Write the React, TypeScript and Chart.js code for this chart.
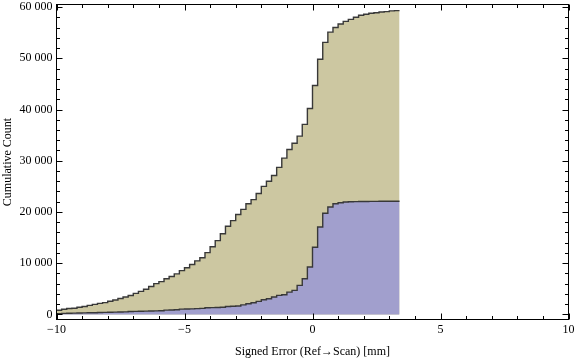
import React, { useEffect, useRef } from 'react';
import { Chart, registerables } from 'chart.js';
Chart.register(...registerables);

// ---- data ----
const binLeft = [
  -10, -9.8, -9.6, -9.4, -9.2, -9, -8.8, -8.6, -8.4, -8.2,
  -8, -7.8, -7.6, -7.4, -7.2, -7, -6.8, -6.6, -6.4, -6.2,
  -6, -5.8, -5.6, -5.4, -5.2, -5, -4.8, -4.6, -4.4, -4.2,
  -4, -3.8, -3.6, -3.4, -3.2, -3, -2.8, -2.6, -2.4, -2.2,
  -2, -1.8, -1.6, -1.4, -1.2, -1, -0.8, -0.6, -0.4, -0.2,
  0, 0.2, 0.4, 0.6, 0.8, 1, 1.2, 1.4, 1.6, 1.8,
  2, 2.2, 2.4, 2.6, 2.8, 3, 3.2,
];
const binRightEdge = 3.4;

const cumulativeAll = [
  800, 1000, 1150, 1200, 1400, 1550, 1750, 1950, 2150, 2300,
  2550, 2800, 3100, 3400, 3700, 4100, 4500, 4900, 5450, 6000,
  6400, 6950, 7400, 7900, 8550, 9100, 9750, 10450, 11050, 12050,
  13200, 14400, 15750, 17200, 18300, 19500, 20500, 21600, 22400, 23600,
  25000, 26000, 27100, 28700, 30500, 32200, 33400, 34800, 37100, 40200,
  44700, 49800, 53100, 55100, 56000, 56700, 57200, 57600, 58000, 58400,
  58600, 58800, 58900, 59050, 59100, 59250, 59300,
];

const cumulativeSubset = [
  150, 200, 230, 250, 270, 290, 310, 330, 380, 400,
  420, 440, 460, 480, 550, 590, 610, 630, 650, 680,
  720, 830, 860, 900, 1020, 1050, 1080, 1120, 1170, 1290,
  1320, 1350, 1400, 1550, 1580, 1650, 1850, 2080, 2280, 2540,
  2870, 3060, 3380, 3710, 3840, 4350, 4690, 5660, 6970, 9240,
  13100, 17050, 19750, 20950, 21600, 21800, 21950, 22000, 22020, 22040,
  22050, 22060, 22070, 22080, 22090, 22100, 22100,
];

const xLabelTicks = [-10, -5, 0, 5, 10];
const xAllTicks = [-10, -9, -8, -7, -6, -5, -4, -3, -2, -1, 0, 1, 2, 3, 4, 5, 6, 7, 8, 9, 10];
const yLabelTicks = [0, 10000, 20000, 30000, 40000, 50000, 60000];
const yAllTicks = [
  0, 2000, 4000, 6000, 8000, 10000, 12000, 14000, 16000, 18000,
  20000, 22000, 24000, 26000, 28000, 30000, 32000, 34000, 36000, 38000,
  40000, 42000, 44000, 46000, 48000, 50000, 52000, 54000, 56000, 58000, 60000,
];

const xTitle = 'Signed Error (Ref\u2192Scan) [mm]';
const yTitle = 'Cumulative Count';

const FONT = "'Liberation Serif', 'Times New Roman', Times, serif";
const TAN = 'rgb(204,199,161)';
const BLUE = 'rgb(161,159,205)';
const LINE = '#383838';

const fmtX = (v: number) => (v < 0 ? '\u2212' + Math.abs(v) : String(v));
const fmtY = (v: number) => (v === 0 ? '0' : `${Math.floor(v / 1000)} 000`);

const frameTicks = {
  id: 'frameTicks',
  afterDatasetsDraw(chart: any) {
    const { ctx, chartArea: a, scales } = chart;
    const xs = scales.x;
    const ys = scales.y;
    const L = Math.floor(a.left) + 0.5;
    const R = Math.floor(a.right) + 0.5;
    const T = Math.floor(a.top) + 0.5;
    const B = Math.floor(a.bottom) + 0.5;
    ctx.save();
    ctx.strokeStyle = '#000';
    ctx.lineWidth = 1;
    ctx.strokeRect(L, T, R - L, B - T);
    ctx.beginPath();
    for (const v of xAllTicks) {
      const px = Math.round(xs.getPixelForValue(v)) + 0.5;
      const len = xLabelTicks.includes(v) ? 6 : 3.5;
      ctx.moveTo(px, B);
      ctx.lineTo(px, B - len);
      ctx.moveTo(px, T);
      ctx.lineTo(px, T + len);
    }
    for (const v of yAllTicks) {
      const py = Math.round(ys.getPixelForValue(v)) + 0.5;
      const len = yLabelTicks.includes(v) ? 6 : 3.5;
      ctx.moveTo(L, py);
      ctx.lineTo(L + len, py);
      ctx.moveTo(R, py);
      ctx.lineTo(R - len, py);
    }
    ctx.stroke();
    ctx.restore();
  },
};

export default function App() {
  const ref = useRef<HTMLCanvasElement>(null);
  useEffect(() => {
    const toPts = (vals: number[]) => {
      const pts = binLeft.map((x, i) => ({ x, y: vals[i] }));
      pts.push({ x: binRightEdge, y: vals[vals.length - 1] });
      return pts;
    };
    const chart = new Chart(ref.current as HTMLCanvasElement, {
      type: 'line',
      data: {
        datasets: [
          {
            label: 'Subset',
            data: toPts(cumulativeSubset),
            stepped: true,
            fill: 'origin',
            backgroundColor: BLUE,
            borderColor: LINE,
            borderWidth: 1.4,
            pointRadius: 0,
            order: 0,
          },
          {
            label: 'All',
            data: toPts(cumulativeAll),
            stepped: true,
            fill: 'origin',
            backgroundColor: TAN,
            borderColor: LINE,
            borderWidth: 1.4,
            pointRadius: 0,
            order: 1,
          },
        ],
      } as any,
      options: {
        animation: false,
        responsive: false,
        maintainAspectRatio: false,
        layout: { padding: { left: 0, top: 4.5, right: 7.5, bottom: 0 } },
        plugins: { legend: { display: false }, tooltip: { enabled: false } },
        scales: {
          x: {
            type: 'linear',
            min: -10,
            max: 10,
            grid: { display: false, drawTicks: false },
            border: { display: false },
            afterBuildTicks: (s: any) => {
              s.ticks = xLabelTicks.map((v) => ({ value: v }));
            },
            afterFit: (s: any) => {
              s.height = 41.5;
              s.paddingLeft = 0;
              s.paddingRight = 0;
            },
            ticks: {
              autoSkip: false,
              maxRotation: 0,
              padding: 3,
              color: '#000',
              font: { family: FONT, size: 12 },
              callback: (v: any) => fmtX(Number(v)),
            },
            title: {
              display: true,
              text: xTitle,
              color: '#000',
              font: { family: FONT, size: 12 },
              padding: { top: 0, bottom: 2 },
            },
          },
          y: {
            type: 'linear',
            min: -1000,
            max: 60500,
            grid: { display: false, drawTicks: false },
            border: { display: false },
            afterBuildTicks: (s: any) => {
              s.ticks = yLabelTicks.map((v) => ({ value: v }));
            },
            afterFit: (s: any) => {
              s.width = 56.5;
              s.paddingTop = 0;
              s.paddingBottom = 0;
            },
            ticks: {
              autoSkip: false,
              padding: 4,
              color: '#000',
              font: { family: FONT, size: 12 },
              callback: (v: any) => fmtY(Number(v)),
            },
            title: {
              display: true,
              text: yTitle,
              color: '#000',
              font: { family: FONT, size: 12 },
              padding: { top: 1, bottom: 0 },
            },
          },
        },
      } as any,
      plugins: [frameTicks],
    });
    return () => chart.destroy();
  }, []);
  return (
    <div style={{ position: 'absolute', left: 0, top: 0, width: 576, height: 361, background: '#fff' }}>
      <canvas ref={ref} width={576} height={361} style={{ display: 'block' }} />
    </div>
  );
}
